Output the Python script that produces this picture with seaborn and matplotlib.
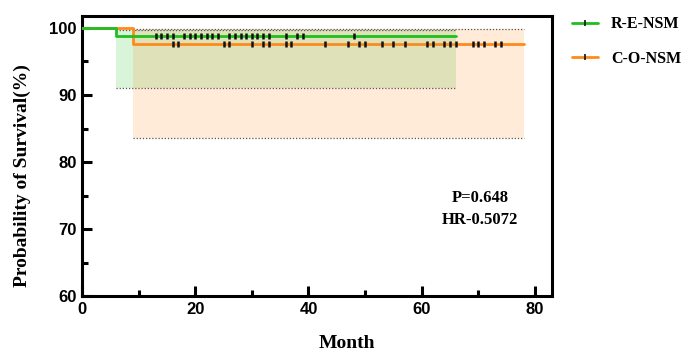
import numpy as np
import pandas as pd
import matplotlib
matplotlib.use("Agg")
import matplotlib.pyplot as plt
from matplotlib.lines import Line2D
import seaborn as sns

# ---- data ----
groups = ["R-E-NSM", "C-O-NSM"]
re_time = [0, 6, 66]
re_surv = [100, 98.8, 98.8]
re_ci_time = [6, 66]
re_ci_lo = [91.1, 91.1]
re_ci_hi = [99.7, 99.7]
re_censor = [13, 14, 15, 16, 18, 19, 20, 21, 22, 23, 24, 26, 27, 28, 29, 30, 31,
             32, 33, 36, 38, 39, 48]

co_time = [0, 9, 78]
co_surv = [100, 97.6, 97.6]
co_ci_time = [9, 78]
co_ci_lo = [83.6, 83.6]
co_ci_hi = [99.8, 99.8]
co_censor = [16, 17, 25, 26, 30, 32, 33, 36, 37, 43, 47, 49, 50, 53, 55, 57, 61,
             62, 64, 65, 66, 69, 70, 71, 73, 74]

stats_text = "P=0.648\nHR-0.5072"

green = "#1fbf1f"
orange = "#ff8a1a"

sns.set_theme(style="white")
plt.rcParams["font.family"] = ["Liberation Sans", "DejaVu Sans"]

fig = plt.figure(figsize=(6.89, 3.53), dpi=100)
ax = fig.add_axes([0.119, 0.161, 0.682, 0.794])

# CI bands
ax.fill_between(re_ci_time, re_ci_lo, re_ci_hi, color="#2ecc2e", alpha=0.18, lw=0, zorder=1)
ax.fill_between(co_ci_time, co_ci_lo, co_ci_hi, color=orange, alpha=0.17, lw=0, zorder=1)
for t, lo, hi in [(re_ci_time, re_ci_lo, re_ci_hi), (co_ci_time, co_ci_lo, co_ci_hi)]:
    ax.plot(t, lo, color="#555555", ls=(0, (1, 1.5)), lw=0.9, zorder=2)
    ax.plot(t, hi, color="#555555", ls=(0, (1, 1.5)), lw=0.9, zorder=2)

df_co = pd.DataFrame({"t": co_time, "s": co_surv})
df_re = pd.DataFrame({"t": re_time, "s": re_surv})
sns.lineplot(data=df_co, x="t", y="s", ax=ax, color=orange, lw=2, drawstyle="steps-post", zorder=3)
sns.lineplot(data=df_re, x="t", y="s", ax=ax, color=green, lw=2, drawstyle="steps-post", zorder=4)

# censor marks
sns.scatterplot(x=co_censor, y=[co_surv[-1]] * len(co_censor), ax=ax, marker="|",
                s=14, color="#111111", linewidth=1.8, zorder=5)
sns.scatterplot(x=re_censor, y=[re_surv[-1]] * len(re_censor), ax=ax, marker="|",
                s=14, color="#111111", linewidth=1.8, zorder=5)

ax.set_xlim(0, 83)
ax.set_ylim(60, 101.8)
ax.set_xticks([0, 20, 40, 60, 80])
ax.set_xticks([10, 30, 50, 70], minor=True)
ax.set_yticks([60, 70, 80, 90, 100])
ax.set_yticks([65, 75, 85, 95], minor=True)
ax.tick_params(axis="both", which="major", direction="in", length=7, width=2.2,
               labelsize=12, color="black", labelcolor="black", pad=4)
ax.tick_params(axis="both", which="minor", direction="in", length=4, width=2.2, color="black")
ax.tick_params(axis="x", which="both", bottom=True)
ax.tick_params(axis="y", which="both", left=True)
for lab in ax.get_xticklabels() + ax.get_yticklabels():
    lab.set_fontweight("bold")
for sp in ax.spines.values():
    sp.set_linewidth(2.2)
    sp.set_color("black")

ax.set_xlabel("Month", family="Liberation Serif", fontweight="bold", fontsize=14, color="black")
ax.set_ylabel("Probability of Survival(%)", family="Liberation Serif", fontweight="bold",
              fontsize=14, color="black")
ax.xaxis.set_label_coords(0.564, -0.14)
ax.yaxis.set_label_coords(-0.108, 0.43)

ax.text(70.3, 73.0, stats_text, ha="center", va="center", family="Liberation Serif",
        fontweight="bold", fontsize=12, linespacing=1.45, color="black")

handles = [Line2D([0], [0], color=green, lw=2, marker="|", markersize=4,
                  markeredgecolor="#111111", markeredgewidth=1.2),
           Line2D([0], [0], color=orange, lw=2, marker="|", markersize=4,
                  markeredgecolor="#111111", markeredgewidth=1.2)]
fig.legend(handles, groups, loc="upper left", bbox_to_anchor=(0.81, 0.995), frameon=False,
           prop={"family": "Liberation Serif", "weight": "bold", "size": 11.5},
           handlelength=1.6, labelspacing=1.15, handletextpad=0.8, labelcolor="black")

fig.savefig("out.png", dpi=100)
